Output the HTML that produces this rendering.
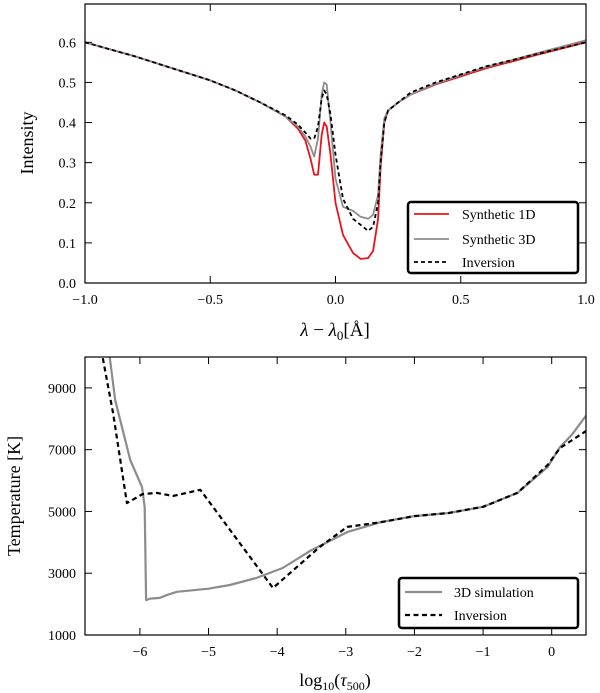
<!DOCTYPE html>
<html><head><meta charset="utf-8"><style>
html,body{margin:0;padding:0;background:#fff;}
svg{display:block;font-family:"Liberation Serif",serif;}
</style></head><body>
<svg id="fig" width="600" height="693" viewBox="0 0 600 693" xmlns="http://www.w3.org/2000/svg"></svg>
<script>
// ---- Top panel data ----
const specX = [-1.0,-0.8,-0.6,-0.5,-0.4,-0.3,-0.2,-0.15,-0.12,-0.1,-0.085,-0.07,-0.055,-0.045,-0.035,-0.02,0.0,0.03,0.07,0.1,0.13,0.15,0.17,0.18,0.195,0.21,0.25,0.3,0.4,0.5,0.6,0.8,1.0];
const red1D = [0.60,0.565,0.525,0.505,0.48,0.45,0.415,0.385,0.355,0.31,0.27,0.27,0.37,0.40,0.39,0.32,0.20,0.12,0.075,0.06,0.062,0.08,0.16,0.29,0.40,0.43,0.45,0.47,0.495,0.515,0.535,0.568,0.60];
const gray3D = [0.60,0.565,0.525,0.505,0.48,0.45,0.415,0.39,0.365,0.34,0.315,0.36,0.47,0.50,0.495,0.40,0.26,0.19,0.18,0.165,0.16,0.17,0.22,0.32,0.41,0.43,0.45,0.47,0.497,0.518,0.538,0.572,0.605];
const invTop = [0.60,0.565,0.525,0.505,0.48,0.45,0.418,0.395,0.375,0.36,0.36,0.39,0.46,0.48,0.47,0.42,0.32,0.21,0.16,0.145,0.13,0.14,0.20,0.30,0.40,0.43,0.45,0.475,0.50,0.52,0.54,0.57,0.60];
const topXTicks = [-1.0,-0.5,0.0,0.5,1.0];
const topXTickLabels = ["\u22121.0","\u22120.5","0.0","0.5","1.0"];
const topYTicks = [0.0,0.1,0.2,0.3,0.4,0.5,0.6];
const topYTickLabels = ["0.0","0.1","0.2","0.3","0.4","0.5","0.6"];
// ---- Bottom panel data ----
const simTau = [-6.44,-6.36,-6.14,-5.97,-5.93,-5.91,-5.85,-5.71,-5.6,-5.46,-5.0,-4.69,-4.3,-3.92,-3.5,-2.98,-2.5,-2.0,-1.5,-1.0,-0.5,-0.06,0.12,0.3,0.5];
const simT = [10000,8600,6660,5790,5140,2130,2180,2200,2300,2400,2500,2620,2850,3170,3750,4330,4650,4850,4950,5150,5600,6440,7080,7500,8100];
const invTau = [-6.54,-6.39,-6.19,-5.96,-5.75,-5.52,-5.12,-4.06,-3.38,-2.98,-2.5,-2.0,-1.5,-1.0,-0.5,-0.06,0.12,0.5];
const invT = [9960,8180,5270,5560,5600,5500,5700,2520,3850,4500,4650,4850,4950,5150,5600,6500,7050,7600];
const botXTicks = [-6,-5,-4,-3,-2,-1,0];
const botXTickLabels = ["\u22126","\u22125","\u22124","\u22123","\u22122","\u22121","0"];
const botYTicks = [1000,3000,5000,7000,9000];
const botYTickLabels = ["1000","3000","5000","7000","9000"];

const NS="http://www.w3.org/2000/svg";
const svg=document.getElementById('fig');
function mk(tag,attrs,parent){const e=document.createElementNS(NS,tag);for(const k in attrs)e.setAttribute(k,attrs[k]);(parent||svg).appendChild(e);return e;}

const T={x0:85,x1:586,y0:4,y1:283,xmin:-1,xmax:1,ymin:0,ymax:0.6955};
const B={x0:85,x1:586,y0:357,y1:635,xmin:-6.8,xmax:0.5,ymin:1000,ymax:10000};
function sx(a,v){return a.x0+(v-a.xmin)/(a.xmax-a.xmin)*(a.x1-a.x0);}
function sy(a,v){return a.y1-(v-a.ymin)/(a.ymax-a.ymin)*(a.y1-a.y0);}

function drawAxes(a,xt,xl,yt,yl,name){
  const g=mk('g',{});
  
  
  xt.forEach((v,i)=>{const x=sx(a,v);
    const t1=mk('line',{x1:x,x2:x,y1:a.y1,y2:a.y1-7,stroke:'#000','stroke-width':1},g);
    
    const t2=mk('line',{x1:x,x2:x,y1:a.y0,y2:a.y0+7,stroke:'#000','stroke-width':1},g);
    
    const tx=mk('text',{x:x,y:a.y1+21,'text-anchor':'middle','font-size':14},g);tx.textContent=xl[i];
    });
  yt.forEach((v,i)=>{const y=sy(a,v);
    const t1=mk('line',{x1:a.x0,x2:a.x0+7,y1:y,y2:y,stroke:'#000','stroke-width':1},g);
    
    const t2=mk('line',{x1:a.x1,x2:a.x1-7,y1:y,y2:y,stroke:'#000','stroke-width':1},g);
    
    const tx=mk('text',{x:a.x0-9,y:y+5,'text-anchor':'end','font-size':14},g);tx.textContent=yl[i];
    });
}
function line(a,xs,ys,attrs,name){
  const d=xs.map((v,i)=>(i?'L':'M')+sx(a,v).toFixed(1)+','+sy(a,ys[i]).toFixed(1)).join('');
  const p=mk('path',Object.assign({d:d,fill:'none','stroke-linejoin':'round'},attrs));
  
  
  return p;
}
const defs=mk('defs',{});
const c1=mk('clipPath',{id:'ct'},defs);mk('rect',{x:T.x0,y:T.y0,width:T.x1-T.x0,height:T.y1-T.y0},c1);
const c2=mk('clipPath',{id:'cb'},defs);mk('rect',{x:B.x0,y:B.y0,width:B.x1-B.x0,height:B.y1-B.y0},c2);

drawAxes(T,topXTicks,topXTickLabels,topYTicks,topYTickLabels,'top');
drawAxes(B,botXTicks,botXTickLabels,botYTicks,botYTickLabels,'bottom');

line(T,specX,red1D,{stroke:'#e8141c','stroke-width':1.8,'clip-path':'url(#ct)'},'synthetic-1d-line');
line(T,specX,gray3D,{stroke:'#8c8c8c','stroke-width':1.8,'clip-path':'url(#ct)'},'synthetic-3d-line');
line(T,specX,invTop,{stroke:'#000','stroke-width':1.8,'stroke-dasharray':'4,3','clip-path':'url(#ct)'},'inversion-profile-line');

line(B,simTau,simT,{stroke:'#8c8c8c','stroke-width':2.2,'clip-path':'url(#cb)'},'3d-simulation-line');
line(B,invTau,invT,{stroke:'#000','stroke-width':2.2,'stroke-dasharray':'5,3.5','clip-path':'url(#cb)'},'inversion-temperature-line');
</script>
<svg width="600" height="693" style="position:absolute;left:0;top:0" xmlns="http://www.w3.org/2000/svg" font-family="Liberation Serif, serif">
  <rect x="85" y="4" width="501" height="279" fill="none" stroke="#000" stroke-width="1.2"/>
  <rect x="85" y="357" width="501" height="278" fill="none" stroke="#000" stroke-width="1.2"/>
  <text x="33" y="143" font-size="18" text-anchor="middle" transform="rotate(-90 33 143)">Intensity</text>
  <text x="335" y="336" font-size="19" text-anchor="middle"><tspan font-style="italic">λ</tspan> − <tspan font-style="italic">λ</tspan><tspan font-size="13" dy="4">0</tspan><tspan dy="-4">[Å]</tspan></text>
  <text x="20" y="496" font-size="18" text-anchor="middle" transform="rotate(-90 20 496)">Temperature [K]</text>
  <text x="335" y="686" font-size="18" text-anchor="middle">log<tspan font-size="12" dy="4">10</tspan><tspan dy="-4">(</tspan><tspan font-style="italic">τ</tspan><tspan font-size="12" dy="4">500</tspan><tspan dy="-4">)</tspan></text>
  <g>
    <rect x="408" y="202" width="170" height="71" rx="3" fill="#fff" stroke="#000" stroke-width="2.5"/>
    <line x1="414" y1="214" x2="449" y2="214" stroke="#e8141c" stroke-width="1.8"/>
    <text x="462" y="219" font-size="14">Synthetic 1D</text>
    <line x1="414" y1="239" x2="449" y2="239" stroke="#8c8c8c" stroke-width="1.8"/>
    <text x="462" y="244" font-size="14">Synthetic 3D</text>
    <line x1="414" y1="262" x2="449" y2="262" stroke="#000" stroke-width="1.8" stroke-dasharray="4,3"/>
    <text x="462" y="267" font-size="14">Inversion</text>
  </g>
  <g>
    <rect x="399" y="578" width="179" height="50" rx="3" fill="#fff" stroke="#000" stroke-width="2.5"/>
    <line x1="405" y1="592" x2="442" y2="592" stroke="#8c8c8c" stroke-width="2.2"/>
    <text x="454" y="597" font-size="14">3D simulation</text>
    <line x1="405" y1="615" x2="442" y2="615" stroke="#000" stroke-width="2.2" stroke-dasharray="5,3.5"/>
    <text x="454" y="620" font-size="14">Inversion</text>
  </g>
</svg>
</body></html>
